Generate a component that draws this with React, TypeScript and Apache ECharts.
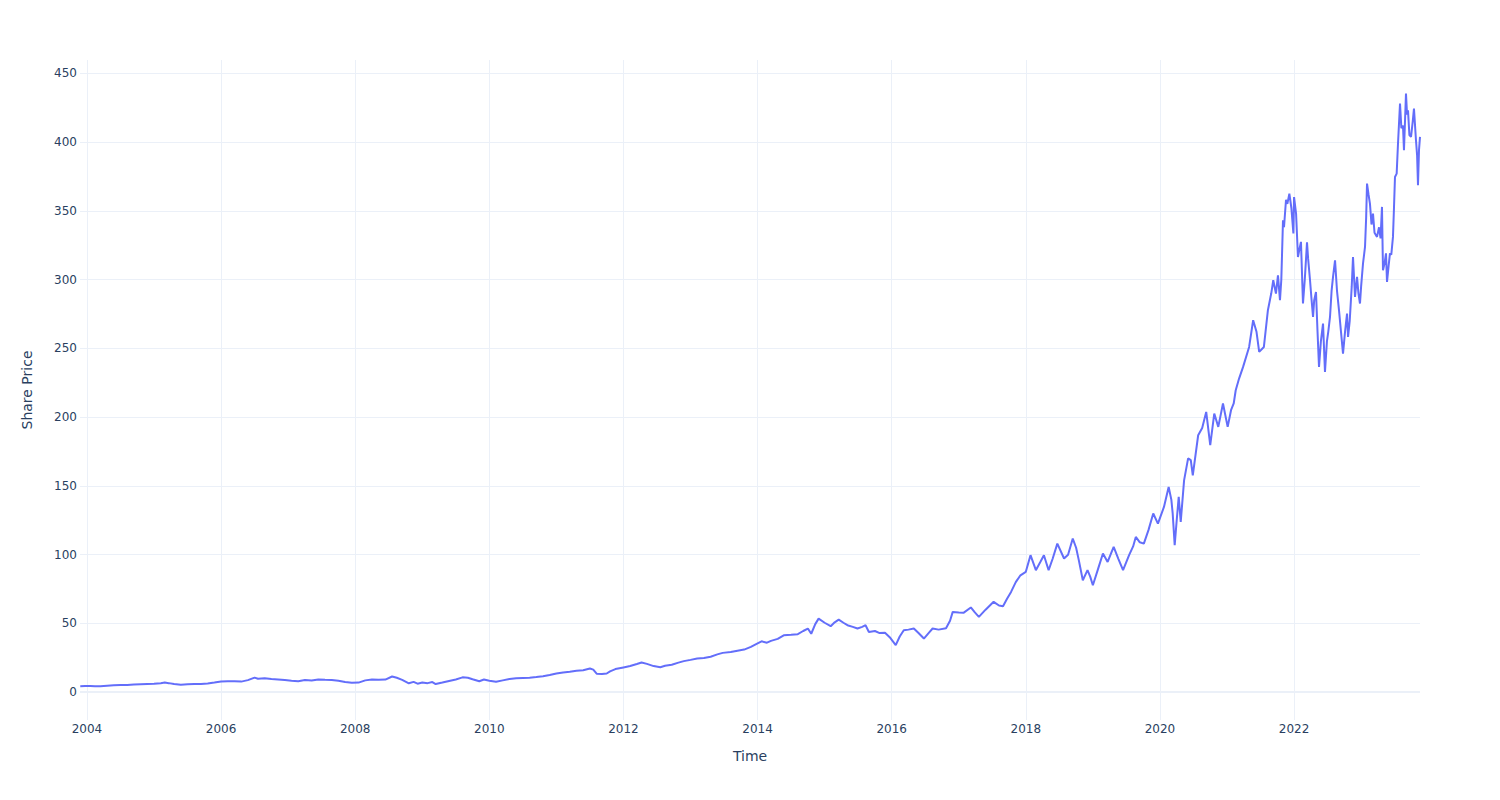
import React, { useEffect, useRef } from "react";
import * as echarts from "echarts";

// x tick labels (years) and y tick values
const xTickYears = [2004, 2006, 2008, 2010, 2012, 2014, 2016, 2018, 2020, 2022];
const yTickValues = [0, 50, 100, 150, 200, 250, 300, 350, 400, 450];

// time expressed as decimal years
const dateYears = [
  2003.9, 2003.97, 2004.05, 2004.12, 2004.2, 2004.3, 2004.4, 2004.5, 2004.6, 2004.7,
  2004.8, 2004.9, 2005.0, 2005.1, 2005.16, 2005.22, 2005.3, 2005.4, 2005.5, 2005.6,
  2005.7, 2005.8, 2005.9, 2006.0, 2006.1, 2006.2, 2006.3, 2006.4, 2006.5, 2006.55,
  2006.65, 2006.75, 2006.85, 2006.95, 2007.05, 2007.15, 2007.25, 2007.35, 2007.45, 2007.55,
  2007.65, 2007.75, 2007.85, 2007.95, 2008.05, 2008.15, 2008.25, 2008.35, 2008.45, 2008.55,
  2008.62, 2008.7, 2008.8, 2008.87, 2008.93, 2009.0, 2009.08, 2009.15, 2009.2, 2009.3,
  2009.4, 2009.5, 2009.6, 2009.68, 2009.75, 2009.85, 2009.92, 2010.0, 2010.1, 2010.2,
  2010.3, 2010.4, 2010.5, 2010.6, 2010.7, 2010.8, 2010.9, 2011.0, 2011.1, 2011.2,
  2011.3, 2011.4, 2011.5, 2011.55, 2011.6, 2011.68, 2011.75, 2011.8, 2011.88, 2012.0,
  2012.1, 2012.2, 2012.27, 2012.35, 2012.45, 2012.55, 2012.62, 2012.72, 2012.82, 2012.9,
  2013.0, 2013.1, 2013.2, 2013.3, 2013.4, 2013.48, 2013.6, 2013.7, 2013.8, 2013.9,
  2014.0, 2014.06, 2014.14, 2014.2, 2014.3, 2014.39, 2014.5, 2014.6, 2014.68, 2014.75,
  2014.8, 2014.86, 2014.91, 2015.0, 2015.09, 2015.15, 2015.21, 2015.28, 2015.34, 2015.42,
  2015.49, 2015.56, 2015.61, 2015.66, 2015.75, 2015.82, 2015.9, 2015.97, 2016.06, 2016.12,
  2016.18, 2016.25, 2016.33, 2016.4, 2016.48, 2016.55, 2016.61, 2016.7, 2016.81, 2016.87,
  2016.91, 2017.0, 2017.07, 2017.18, 2017.24, 2017.3, 2017.4, 2017.52, 2017.6, 2017.66,
  2017.72, 2017.78, 2017.85, 2017.92, 2018.0, 2018.07, 2018.15, 2018.22, 2018.27, 2018.34,
  2018.4, 2018.47, 2018.57, 2018.63, 2018.7, 2018.75, 2018.79, 2018.85, 2018.92, 2018.96,
  2019.0, 2019.08, 2019.15, 2019.22, 2019.31, 2019.38, 2019.45, 2019.54, 2019.6, 2019.64,
  2019.7, 2019.76, 2019.83, 2019.9, 2019.97, 2020.06, 2020.13, 2020.17, 2020.19, 2020.22,
  2020.25, 2020.28, 2020.31, 2020.36, 2020.42, 2020.46, 2020.49, 2020.57, 2020.63, 2020.69,
  2020.75, 2020.81, 2020.87, 2020.94, 2021.01, 2021.06, 2021.1, 2021.13, 2021.18, 2021.24,
  2021.33, 2021.39, 2021.44, 2021.48, 2021.55, 2021.61, 2021.66, 2021.69, 2021.73, 2021.76,
  2021.79, 2021.81, 2021.835, 2021.85, 2021.88, 2021.9, 2021.93, 2021.96, 2021.99, 2022.0,
  2022.03, 2022.058, 2022.08, 2022.103, 2022.133, 2022.16, 2022.193, 2022.21, 2022.238, 2022.26,
  2022.283, 2022.3, 2022.327, 2022.35, 2022.372, 2022.4, 2022.432, 2022.461, 2022.49, 2022.51,
  2022.536, 2022.56, 2022.581, 2022.611, 2022.64, 2022.67, 2022.7, 2022.73, 2022.76, 2022.79,
  2022.805, 2022.83, 2022.86, 2022.879, 2022.909, 2022.939, 2022.96, 2022.983, 2023.0, 2023.028,
  2023.058, 2023.075, 2023.088, 2023.11, 2023.132, 2023.155, 2023.177, 2023.2, 2023.237, 2023.267,
  2023.29, 2023.311, 2023.326, 2023.35, 2023.371, 2023.386, 2023.41, 2023.43, 2023.45, 2023.475,
  2023.49, 2023.505, 2023.53, 2023.55, 2023.58, 2023.6, 2023.624, 2023.639, 2023.669, 2023.685,
  2023.699, 2023.72, 2023.744, 2023.77, 2023.788, 2023.818, 2023.835, 2023.848, 2023.863, 2023.878,
];

const sharePrices = [
  4.4, 4.6, 4.5, 4.3, 4.4, 4.7, 5.0, 5.2, 5.3, 5.6,
  5.8, 6.0, 6.1, 6.6, 7.0, 6.6, 6.0, 5.4, 5.7, 5.9,
  6.0, 6.3, 7.0, 7.8, 8.0, 8.0, 7.7, 8.8, 10.6, 9.8,
  10.2, 9.6, 9.3, 8.8, 8.3, 8.0, 8.8, 8.5, 9.3, 9.0,
  8.9, 8.4, 7.5, 6.8, 7.0, 8.6, 9.3, 9.0, 9.2, 11.4,
  10.5, 9.0, 6.5, 7.5, 6.2, 7.0, 6.6, 7.4, 5.9, 7.0,
  8.2, 9.3, 10.8, 10.5, 9.4, 8.0, 9.2, 8.4, 7.6, 8.6,
  9.6, 10.2, 10.4, 10.6, 11.0, 11.6, 12.5, 13.6, 14.3, 14.8,
  15.6, 16.0, 17.2, 16.4, 13.5, 13.2, 13.6, 15.2, 16.8, 18.0,
  19.0, 20.5, 21.6, 20.6, 19.0, 18.2, 19.2, 20.0, 21.5, 22.6,
  23.5, 24.5, 24.8, 25.8, 27.5, 28.6, 29.2, 30.2, 31.0, 33.0,
  35.5, 37.0, 36.0, 37.3, 38.8, 41.4, 41.8, 42.2, 44.5, 46.3,
  42.5, 49.5, 53.5, 50.5, 48.0, 50.8, 52.8, 50.5, 48.7, 47.5,
  46.3, 47.5, 48.7, 43.8, 44.5, 43.0, 43.2, 40.0, 34.2, 40.5,
  45.0, 45.5, 46.3, 43.0, 39.0, 43.0, 46.3, 45.5, 46.5, 52.0,
  58.4, 58.0, 57.7, 61.6, 58.0, 54.8, 60.0, 65.7, 63.0, 62.5,
  68.0, 72.9, 80.0, 85.0, 87.5, 99.6, 88.7, 95.0, 99.6, 88.7,
  97.0, 108.0, 97.2, 100.0, 111.7, 105.0, 96.0, 81.4, 88.7, 84.0,
  77.8, 90.0, 100.8, 94.7, 105.6, 97.0, 88.7, 99.6, 106.0, 112.9,
  109.0, 108.0, 118.0, 129.9, 122.6, 134.7, 149.2, 140.0, 130.0, 106.9,
  125.0, 142.0, 123.8, 154.0, 170.0, 168.7, 157.7, 186.8, 192.0, 203.8,
  179.6, 202.6, 192.9, 209.9, 192.9, 205.0, 209.9, 219.5, 228.0, 236.5,
  251.0, 270.4, 262.0, 247.4, 251.0, 277.7, 290.0, 299.5, 289.8, 303.1,
  285.0, 300.0, 343.0, 338.0, 358.0, 355.0, 362.5, 352.0, 333.5, 360.0,
  348.0, 316.4, 322.0, 327.4, 282.6, 300.0, 327.0, 315.0, 299.5, 286.0,
  272.8, 285.0, 291.0, 262.0, 236.5, 255.0, 268.0, 232.9, 255.0, 262.0,
  272.8, 292.0, 302.0, 314.0, 292.0, 277.7, 262.0, 246.2, 262.0, 275.3,
  258.3, 270.0, 295.0, 316.4, 287.4, 302.0, 290.0, 282.6, 295.0, 311.6,
  323.7, 345.0, 369.8, 362.0, 355.0, 340.0, 348.0, 334.0, 331.0, 338.0,
  330.0, 352.8, 306.8, 312.0, 319.0, 298.3, 310.0, 319.0, 318.0, 331.0,
  352.0, 374.6, 377.0, 398.9, 428.0, 410.0, 412.0, 394.0, 435.2, 420.0,
  423.0, 405.0, 403.7, 415.0, 424.3, 401.3, 390.0, 368.6, 394.0, 403.7,
];

const X_MIN = 2003.896;
const X_MAX = 2023.878;
const Y_MIN = -20.2;
const Y_MAX = 459.6;

const FONT = "'DejaVu Sans', Verdana, sans-serif";
const TEXT = "#2a3f5f";
const GRID = "#EBF0F8";

export default function App() {
  const ref = useRef<HTMLDivElement>(null);

  useEffect(() => {
    if (!ref.current) return;
    const chart = echarts.init(ref.current, null, { renderer: "svg" });
    const data = dateYears.map((d, i) => [d, sharePrices[i]]);
    chart.setOption({
      animation: false,
      backgroundColor: "#ffffff",
      textStyle: { fontFamily: FONT },
      grid: { left: 80, right: 80, top: 60, bottom: 80, containLabel: false },
      xAxis: {
        type: "value",
        min: X_MIN,
        max: X_MAX,
        name: "Time",
        nameLocation: "middle",
        nameGap: 29,
        nameTextStyle: { color: TEXT, fontSize: 14, fontFamily: FONT },
        axisLine: { show: false, onZero: false },
        axisTick: { show: false, customValues: xTickYears },
        axisLabel: {
          customValues: xTickYears,
          color: TEXT,
          fontSize: 12,
          fontFamily: FONT,
          margin: 3,
          formatter: (v: number) => String(Math.round(v)),
        },
        splitLine: { show: true, lineStyle: { color: GRID, width: 1 } },
      },
      yAxis: {
        type: "value",
        min: Y_MIN,
        max: Y_MAX,
        name: "Share Price",
        nameLocation: "middle",
        nameGap: 46,
        nameTextStyle: { color: TEXT, fontSize: 14, fontFamily: FONT },
        axisLine: { show: false },
        axisTick: { show: false, customValues: yTickValues },
        axisLabel: {
          customValues: yTickValues,
          color: TEXT,
          fontSize: 12,
          fontFamily: FONT,
          margin: 3,
          formatter: (v: number) => String(Math.round(v)),
        },
        splitLine: { show: true, lineStyle: { color: GRID, width: 1 } },
      },
      series: [
        {
          type: "line",
          data,
          showSymbol: false,
          symbol: "none",
          lineStyle: { color: "#636efa", width: 2 },
          itemStyle: { color: "#636efa" },
          markLine: {
            silent: true,
            symbol: ["none", "none"],
            label: { show: false },
            lineStyle: { color: GRID, width: 2, type: "solid" },
            data: [{ yAxis: 0 }],
          },
        },
      ],
    });
    return () => chart.dispose();
  }, []);

  return (
    <div
      ref={ref}
      style={{ position: "absolute", left: 0, top: 0, width: 1500, height: 800 }}
    />
  );
}
